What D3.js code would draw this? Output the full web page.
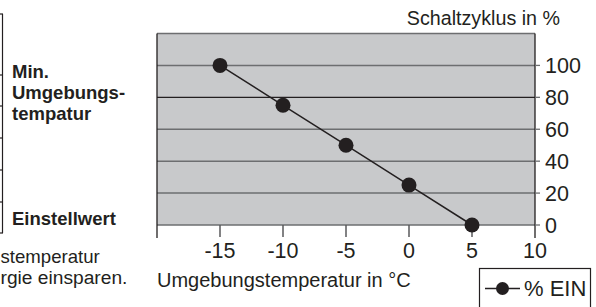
<!DOCTYPE html>
<html>
<head>
<meta charset="utf-8">
<script src="https://cdn.jsdelivr.net/npm/d3@7"></script>
<style>
  html, body { margin: 0; padding: 0; background: #fff; }
  svg { display: block; font-family: "Liberation Sans", Arial, Helvetica, sans-serif; }
</style>
</head>
<body>
<svg id="chart" width="596" height="307"></svg>
<script>
// Schaltzyklus (% EIN) ueber Umgebungstemperatur
const temps = [-15, -10, -5, 0, 5];
const dutyCycle = [100, 75, 50, 25, 0];
const xTicks = [-15, -10, -5, 0, 5, 10];
const yTicks = [0, 20, 40, 60, 80, 100];
const tableRows = [14, 75, 106, 138, 170, 202, 233]; // cut-off table on the left

const ink = '#231f20';
const gridGray = '#6d6e70';

const svg = d3.select('#chart');

const x = d3.scaleLinear().domain([-20, 10]).range([157, 535]);
const y = d3.scaleLinear().domain([0, 120]).range([225, 33.5]);

// --- left fragment of the neighbouring table ---
const side = svg.append('g');
side.append('line')
  .attr('x1', 2.5).attr('x2', 2.5)
  .attr('y1', tableRows[0]).attr('y2', tableRows[tableRows.length - 1])
  .attr('stroke', ink).attr('stroke-width', 1.2);
side.selectAll('line.row').data(tableRows).join('line')
  .attr('class', 'row')
  .attr('x1', 0).attr('x2', 3)
  .attr('y1', (d) => d).attr('y2', (d) => d)
  .attr('stroke', ink).attr('stroke-width', 1.2);

const boldLines = [['Min.', 78], ['Umgebungs-', 99], ['tempatur', 119.5], ['Einstellwert', 225]];
side.selectAll('text.bold').data(boldLines).join('text')
  .attr('class', 'bold')
  .attr('x', 12).attr('y', (d) => d[1])
  .attr('font-size', 18.5).attr('font-weight', 'bold').attr('fill', ink)
  .text((d) => d[0]);

// tail of the paragraph below the table (only its visible part)
const noteLines = [['stemperatur', 18.6, 263], ['rgie einsparen.', 19.2, 284]];
side.selectAll('text.note').data(noteLines).join('text')
  .attr('class', 'note')
  .attr('x', 0.5).attr('y', (d) => d[2])
  .attr('font-size', (d) => d[1]).attr('fill', ink)
  .text((d) => d[0]);

// --- plot area ---
svg.append('rect')
  .attr('x', x(-20)).attr('y', y(120))
  .attr('width', x(10) - x(-20)).attr('height', y(0) - y(120))
  .attr('fill', '#c8c9cb');

// top border
svg.append('line')
  .attr('x1', x(-20)).attr('x2', x(10))
  .attr('y1', y(120)).attr('y2', y(120))
  .attr('stroke', gridGray).attr('stroke-width', 1.5);

// horizontal grid
svg.selectAll('line.grid').data(yTicks).join('line')
  .attr('class', 'grid')
  .attr('x1', x(-20)).attr('x2', x(10))
  .attr('y1', (d) => y(d)).attr('y2', (d) => y(d))
  .attr('stroke', (d) => (d === 80 ? ink : gridGray))
  .attr('stroke-width', (d) => (d === 80 ? 1.2 : 1.5));

// x tick marks below the plot
svg.selectAll('line.xtick').data(xTicks.slice(0, -1)).join('line')
  .attr('class', 'xtick')
  .attr('x1', (d) => x(d)).attr('x2', (d) => x(d))
  .attr('y1', y(0)).attr('y2', y(0) + 12)
  .attr('stroke', '#58595b').attr('stroke-width', 1.5);

// left and right frame lines, both running past the bottom
svg.selectAll('line.frame').data([-20, 10]).join('line')
  .attr('class', 'frame')
  .attr('x1', (d) => x(d)).attr('x2', (d) => x(d))
  .attr('y1', y(120)).attr('y2', y(0) + 13)
  .attr('stroke', ink).attr('stroke-width', 1.3);

// y tick marks on the right
svg.selectAll('line.ytick').data(yTicks).join('line')
  .attr('class', 'ytick')
  .attr('x1', x(10)).attr('x2', x(10) + 5)
  .attr('y1', (d) => y(d)).attr('y2', (d) => y(d))
  .attr('stroke', gridGray).attr('stroke-width', 1.3);

// tick labels
svg.selectAll('text.xlab').data(xTicks).join('text')
  .attr('class', 'xlab')
  .attr('x', (d) => x(d)).attr('y', 258)
  .attr('text-anchor', 'middle')
  .attr('font-size', 21.5).attr('fill', ink)
  .text((d) => d);

svg.selectAll('text.ylab').data(yTicks).join('text')
  .attr('class', 'ylab')
  .attr('x', x(10) + 10).attr('y', (d) => y(d))
  .attr('dy', '0.36em')
  .attr('font-size', 21.5).attr('fill', ink)
  .text((d) => d);

// axis titles
svg.append('text')
  .attr('x', 560).attr('y', 25)
  .attr('text-anchor', 'end')
  .attr('font-size', 19.7).attr('fill', ink)
  .text('Schaltzyklus in %');

svg.append('text')
  .attr('x', 157).attr('y', 287)
  .attr('font-size', 20).attr('fill', ink)
  .text('Umgebungstemperatur in °C');

// --- series ---
const pts = temps.map((t, i) => ({ t, v: dutyCycle[i] }));
const line = d3.line().x((d) => x(d.t)).y((d) => y(d.v));

svg.append('path')
  .attr('d', line(pts))
  .attr('fill', 'none')
  .attr('stroke', ink).attr('stroke-width', 1.5);

svg.selectAll('circle.pt').data(pts).join('circle')
  .attr('class', 'pt')
  .attr('cx', (d) => x(d.t)).attr('cy', (d) => y(d.v))
  .attr('r', 7.5)
  .attr('fill', ink);

// --- legend ---
const lg = svg.append('g');
lg.append('rect')
  .attr('x', 479.5).attr('y', 268.5)
  .attr('width', 111).attr('height', 50)
  .attr('fill', '#fff').attr('stroke', ink).attr('stroke-width', 1.2);
lg.append('line')
  .attr('x1', 485).attr('x2', 520)
  .attr('y1', 288.5).attr('y2', 288.5)
  .attr('stroke', ink).attr('stroke-width', 1.5);
lg.append('circle')
  .attr('cx', 502.5).attr('cy', 288.5).attr('r', 6.5)
  .attr('fill', ink);
lg.append('text')
  .attr('x', 524).attr('y', 295.5)
  .attr('font-size', 22).attr('fill', ink)
  .text('% EIN');
</script>
</body>
</html>
